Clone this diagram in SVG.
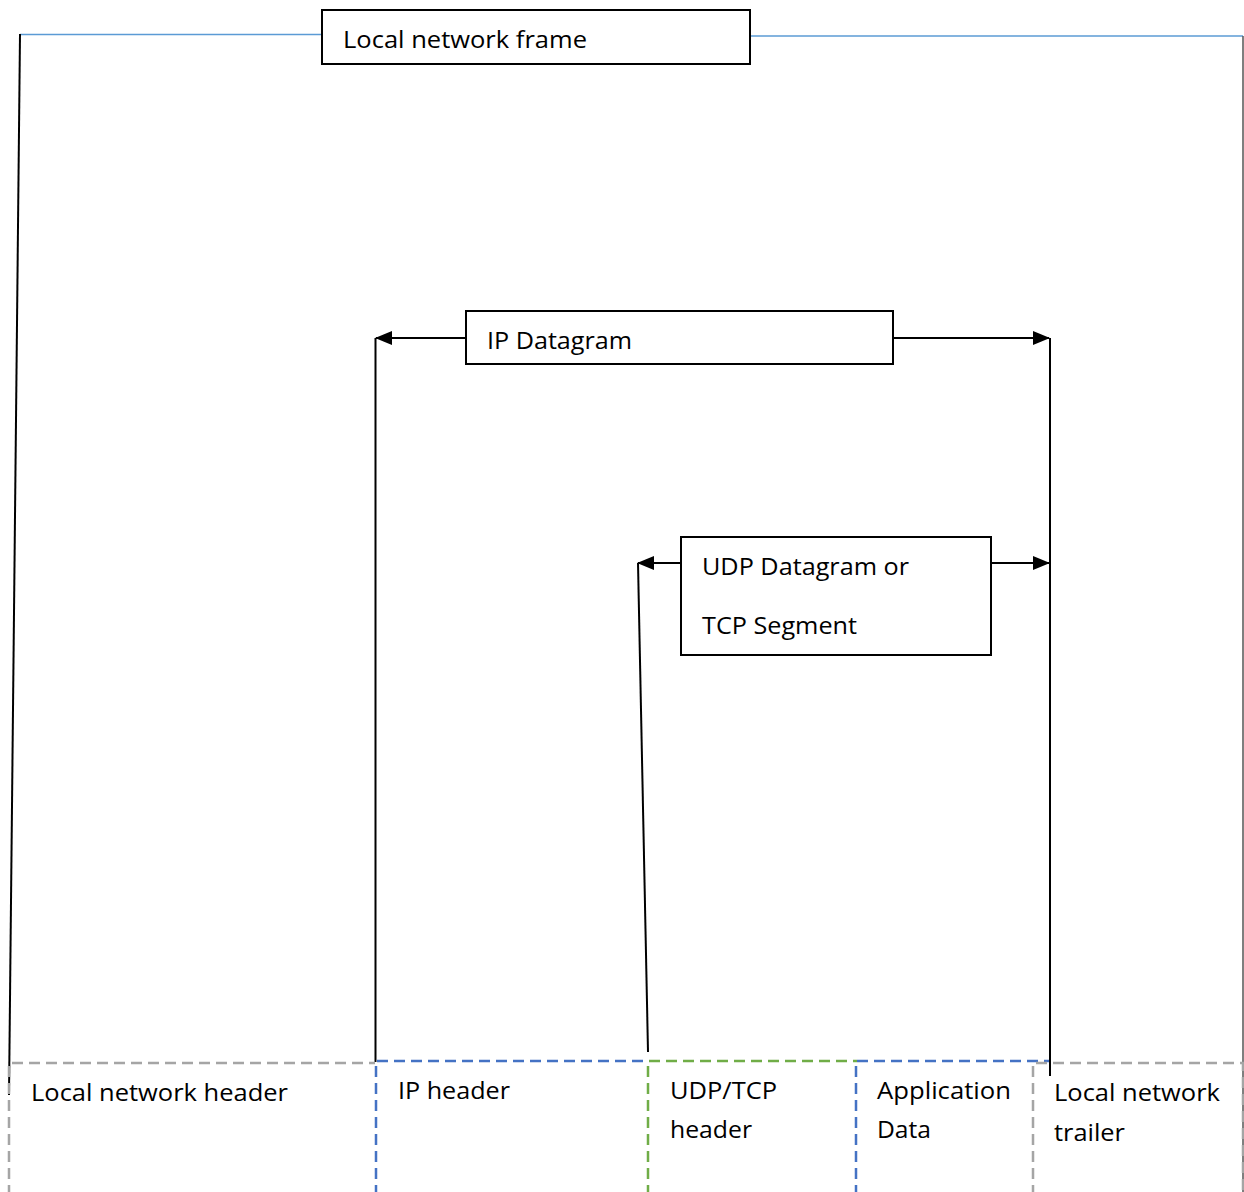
<svg xmlns="http://www.w3.org/2000/svg" width="1244" height="1192" viewBox="0 0 1244 1192">
<style>
text{font-family:"Open Sans","Noto Sans","Liberation Sans",sans-serif;font-size:24px;fill:#000}
.box{fill:#fff;stroke:#000;stroke-width:2}
.conn{fill:none;stroke:#000;stroke-width:2}
.blueline{fill:none;stroke:#5b9bd5;stroke-width:1.5}
.gray{fill:none;stroke:#a5a5a5;stroke-width:2.5;stroke-dasharray:11 6}
.blue{fill:none;stroke:#4472c4;stroke-width:2.5;stroke-dasharray:11 6}
.green{fill:none;stroke:#70ad47;stroke-width:2.5;stroke-dasharray:11 6}
</style>
<defs>
<marker id="ah" viewBox="0 0 17 14" refX="16" refY="7" markerWidth="17" markerHeight="14" markerUnits="userSpaceOnUse" orient="auto">
<path d="M0,0 L17,7 L0,14 Z" fill="#000"/>
</marker>
</defs>
<rect width="1244" height="1192" fill="#fff"/>
<g id="connectors">
<path class="blueline" d="M20,34.5 H322"/>
<path class="blueline" d="M750,36 H1243"/>
<path class="conn" d="M20,34 L9,1095"/>
<path d="M1243,36 V1192" fill="none" stroke="#555" stroke-width="1.5"/>
<path class="conn" d="M466,338 H376" marker-end="url(#ah)"/>
<path class="conn" d="M375.5,338 V1062"/>
<path class="conn" d="M893,338 H1049" marker-end="url(#ah)"/>
<path class="conn" d="M1050,338 V1076"/>
<path class="conn" d="M681,563 H638" marker-end="url(#ah)"/>
<path class="conn" d="M638,563 L648,1052"/>
<path class="conn" d="M991,563 H1049" marker-end="url(#ah)"/>
</g>
<g id="local-network-frame">
<rect class="box" x="322" y="10" width="428" height="54"/>
<text x="343" y="48" textLength="244" lengthAdjust="spacingAndGlyphs">Local network frame</text>
</g>
<g id="ip-datagram">
<rect class="box" x="466" y="311" width="427" height="53"/>
<text x="487" y="349" textLength="145" lengthAdjust="spacingAndGlyphs">IP Datagram</text>
</g>
<g id="udp-tcp-segment">
<rect class="box" x="681" y="537" width="310" height="118"/>
<text x="702" y="575" textLength="207" lengthAdjust="spacingAndGlyphs">UDP Datagram or</text>
<text x="702" y="634" textLength="155" lengthAdjust="spacingAndGlyphs">TCP Segment</text>
</g>
<g id="local-network-header">
<path class="gray" d="M9,1196 V1063 H375"/>
<text x="31" y="1101" textLength="257" lengthAdjust="spacingAndGlyphs">Local network header</text>
</g>
<g id="ip-header">
<path class="blue" d="M376,1196 V1061 H648"/>
<text x="398" y="1099" textLength="112" lengthAdjust="spacingAndGlyphs">IP header</text>
</g>
<g id="udp-tcp-header">
<path class="green" d="M648,1196 V1061 H857"/>
<text x="670" y="1099" textLength="107" lengthAdjust="spacingAndGlyphs">UDP/TCP</text>
<text x="670" y="1138" textLength="82" lengthAdjust="spacingAndGlyphs">header</text>
</g>
<g id="application-data">
<path class="blue" d="M856,1196 V1061 H1049"/>
<text x="877" y="1099" textLength="134" lengthAdjust="spacingAndGlyphs">Application</text>
<text x="877" y="1138" textLength="54" lengthAdjust="spacingAndGlyphs">Data</text>
</g>
<g id="local-network-trailer">
<path class="gray" d="M1033,1196 V1063 H1243 V1196"/>
<text x="1054" y="1101" textLength="166" lengthAdjust="spacingAndGlyphs">Local network</text>
<text x="1054" y="1141" textLength="71" lengthAdjust="spacingAndGlyphs">trailer</text>
</g>
</svg>
